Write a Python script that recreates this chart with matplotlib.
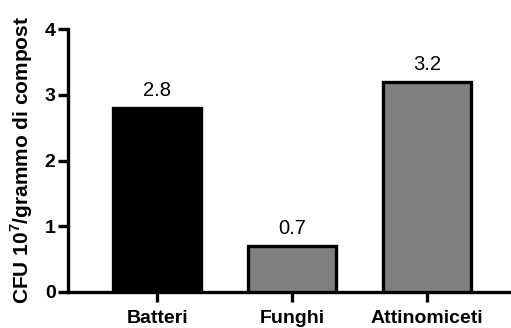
import matplotlib
matplotlib.use("Agg")
import matplotlib.pyplot as plt

categories = ["Batteri", "Funghi", "Attinomiceti"]
values = [2.8, 0.7, 3.2]
fill_colors = ["#000000", "#808080", "#808080"]
y_ticks = [0, 1, 2, 3, 4]

plt.rcParams["font.family"] = ["Liberation Sans", "DejaVu Sans"]
plt.rcParams["mathtext.fontset"] = "custom"
plt.rcParams["mathtext.bf"] = "Liberation Sans:bold"

fig = plt.figure(figsize=(5.11, 3.28), dpi=100)
ax = fig.add_axes([68 / 511, 36 / 328, 1 - 68 / 511 + 0.01, 263 / 328])

x = list(range(len(categories)))
bars = ax.bar(x, values, width=0.65, color=fill_colors, edgecolor="black",
              linewidth=2.4, zorder=3)

for xi, v in zip(x, values):
    ax.text(xi, v + 0.12, f"{v}", ha="center", va="bottom", fontsize=14.5)

ax.set_xlim(-0.66, 2.66)
ax.set_ylim(0, 4)
ax.set_yticks(y_ticks)
ax.set_xticks(x)
ax.set_xticklabels(categories, fontsize=14, fontweight="bold")
ax.tick_params(axis="y", labelsize=14, length=7, width=2.4, pad=2)
ax.tick_params(axis="x", length=7, width=2.4, pad=6)
for lbl in ax.get_yticklabels():
    lbl.set_fontweight("bold")

for side in ("top", "right"):
    ax.spines[side].set_visible(False)
for side in ("left", "bottom"):
    ax.spines[side].set_linewidth(2.4)

ax.set_ylabel("CFU 10$^{\\mathbf{7}}$/grammo di compost", fontsize=15,
              fontweight="bold", labelpad=7)

fig.savefig("out.png", dpi=100)
